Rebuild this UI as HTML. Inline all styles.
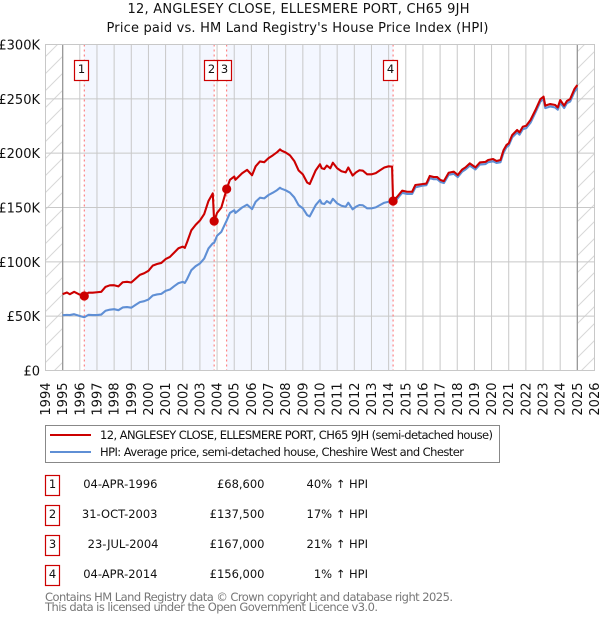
<!DOCTYPE html>
<html lang="en">
<head>
<meta charset="utf-8">
<title>12, ANGLESEY CLOSE, ELLESMERE PORT, CH65 9JH</title>
<style>
html,body{margin:0;padding:0;background:#fff;width:600px;height:620px;overflow:hidden}
svg{display:block;font-family:"DejaVu Sans","Liberation Sans",sans-serif}
text{fill:#111}
</style>
</head>
<body>
<svg id="chart" xmlns="http://www.w3.org/2000/svg" width="600" height="620" viewBox="0 0 600 620">
<defs>
<pattern id="hatch" patternUnits="userSpaceOnUse" width="17" height="17">
<path d="M-2 19 L19 -2" stroke="#d8d8d8" stroke-width="1" fill="none"/>
<path d="M-2 2 L2 -2 M15 19 L19 15" stroke="#d8d8d8" stroke-width="1" fill="none"/>
</pattern>
</defs>
<text x="298.5" y="13" font-size="13" text-anchor="middle" textLength="342" lengthAdjust="spacing">12, ANGLESEY CLOSE, ELLESMERE PORT, CH65 9JH</text>
<text x="297.5" y="32" font-size="13" text-anchor="middle" textLength="382" lengthAdjust="spacing">Price paid vs. HM Land Registry's House Price Index (HPI)</text>
<g id="plot"></g>
<g>
<rect x="45.5" y="425.5" width="454" height="37" fill="#fff" stroke="#888" stroke-width="1"/>
<line x1="50" x2="91" y1="435" y2="435" stroke="#cc0000" stroke-width="2"/>
<text x="100" y="439" font-size="11.5" textLength="393" lengthAdjust="spacing">12, ANGLESEY CLOSE, ELLESMERE PORT, CH65 9JH (semi-detached house)</text>
<line x1="50" x2="91" y1="452" y2="452" stroke="#5f8fd5" stroke-width="2"/>
<text x="100" y="456" font-size="11.5" textLength="364" lengthAdjust="spacing">HPI: Average price, semi-detached house, Cheshire West and Chester</text>
</g>
<g id="sales"></g>
<text x="45" y="601" font-size="11.5" style="fill:#777" textLength="408" lengthAdjust="spacing">Contains HM Land Registry data © Crown copyright and database right 2025.</text>
<text x="45" y="611" font-size="11.5" style="fill:#777" textLength="333" lengthAdjust="spacing">This data is licensed under the Open Government Licence v3.0.</text>
</svg>
<script>
const yearTicks = [1994,1995,1996,1997,1998,1999,2000,2001,2002,2003,2004,2005,2006,2007,2008,2009,2010,2011,2012,2013,2014,2015,2016,2017,2018,2019,2020,2021,2022,2023,2024,2025,2026];
const valueTicks = [0,50,100,150,200,250,300];
const valueTickLabels = ['£0','£50K','£100K','£150K','£200K','£250K','£300K'];
const dates = [1995,1995.25,1995.42,1995.67,1996,1996.26,1996.5,1996.75,1997,1997.25,1997.5,1997.75,1998,1998.25,1998.5,1998.75,1999,1999.25,1999.5,1999.75,2000,2000.25,2000.5,2000.75,2001,2001.25,2001.5,2001.75,2002,2002.12,2002.25,2002.5,2002.75,2003,2003.25,2003.5,2003.75,2003.83,2004,2004.25,2004.56,2004.75,2005,2005.07,2005.46,2005.75,2006.04,2006.25,2006.5,2006.75,2007,2007.25,2007.5,2007.67,2007.75,2008,2008.25,2008.5,2008.75,2009,2009.25,2009.4,2009.75,2010,2010.1,2010.25,2010.4,2010.6,2010.75,2011,2011.25,2011.5,2011.65,2011.9,2012.1,2012.3,2012.5,2012.75,2013,2013.25,2013.5,2013.75,2014,2014.2,2014.26,2014.5,2014.79,2015.08,2015.37,2015.56,2015.95,2016.2,2016.4,2016.63,2016.83,2017.02,2017.22,2017.5,2017.8,2018.03,2018.29,2018.48,2018.73,2019.06,2019.32,2019.65,2019.8,2020.09,2020.29,2020.52,2020.7,2020.87,2021,2021.2,2021.49,2021.63,2021.82,2022.02,2022.27,2022.56,2022.85,2023.03,2023.13,2023.42,2023.71,2023.86,2024,2024.23,2024.39,2024.58,2024.83,2025];
const hpiValues = [50.9,51.2,51,51.8,50.2,49,51.2,51,51,51.5,55,56,56.4,55.5,58,58.4,57.8,60.4,62.9,63.8,65.3,69,70,70.5,73.3,74.5,77.6,80.4,81.6,80.5,84,92.3,96,98.5,103,112.3,117,117.5,124,127.6,138,145,147.5,145,150,152.6,148.5,155.3,159,158.4,161.5,163.6,166,168.2,167.3,165.8,163.6,159.3,152.2,149.2,143,141.8,152.2,156.9,153.8,153.2,155.9,153.8,158,153.8,151.6,150.7,154.4,148.3,150.7,152.3,152,149.2,149.2,150.1,152.3,154.4,155.3,155,154.5,158,163.5,162.5,162.5,168.5,170,170.5,177,176,176,173.5,172.5,180,181,178,183,185,188.5,185,189.5,190,191.7,192.5,191,191.7,200.5,205.5,207,214.5,219,217,222,223,228,237.5,247.5,250,241.5,243,242,240,246.5,241.5,246,247.5,256.5,260];
const paidValues = [70.3,71.8,70.2,72.4,69.8,68.6,71.6,71.6,72,72.4,77,78.4,78.5,77.4,81.2,81.6,81,84.5,88,89.5,91.7,96.5,98,99,102.5,104.5,108.5,112.5,114,112.8,118,129,134,138,144,156,163,137.5,145,150,167,175.5,178.5,175.5,181.5,184.6,179.7,187.9,192.4,191.7,195.4,198,200.9,203.5,202.4,200.6,198,192.8,184.2,180.5,173,171.6,184.2,189.8,186.1,185.4,188.6,186.1,191.2,186.1,183.4,182.3,186.8,179.4,182.3,184.3,183.9,180.5,180.5,181.6,184.3,186.8,187.9,187.6,156,159.9,165.5,164.5,164.5,170.7,171.5,172,179,178,178,175.3,174.3,182,183,179.9,185,186.9,190.6,186.9,191.5,192,193.7,194.6,192.8,193.7,202.8,207.5,209,216.6,221.3,219.1,224.3,225.2,230.5,239.7,249.8,252,243.7,245.2,244.3,242.1,248.9,243.7,248,249.8,259,262.7];
const saleNumbers = ['1','2','3','4'];
const saleDates = [1996.26,2003.83,2004.56,2014.26];
const salePrices = [68.6,137.5,167,156];
const saleDateLabels = ['04-APR-1996','31-OCT-2003','23-JUL-2004','04-APR-2014'];
const salePriceLabels = ['£68,600','£137,500','£167,000','£156,000'];
const saleHpiLabels = ['40% ↑ HPI','17% ↑ HPI','21% ↑ HPI','1% ↑ HPI'];
const dataStartYear = 1995;
const dataEndYear = 2025;

const NS = 'http://www.w3.org/2000/svg';
const LEFT = 45.5, RIGHT = 594.5, TOP = 44.5, BOTTOM = 370.5;
const xMin = yearTicks[0], xMax = yearTicks[yearTicks.length - 1];
const yMin = valueTicks[0], yMax = valueTicks[valueTicks.length - 1];
function xScale(t) { return LEFT + (t - xMin) / (xMax - xMin) * (RIGHT - LEFT); }
function yScale(v) { return BOTTOM - (v - yMin) / (yMax - yMin) * (BOTTOM - TOP); }
function make(tag, attrs, text) {
  const el = document.createElementNS(NS, tag);
  for (const k in attrs) el.setAttribute(k, attrs[k]);
  if (text !== undefined) el.textContent = text;
  return el;
}
const plot = document.getElementById('plot');
const sales = document.getElementById('sales');

// hatched out-of-range bands
const hatchLeft = make('rect', {x: xScale(xMin), y: TOP, width: xScale(dataStartYear) - xScale(xMin), height: BOTTOM - TOP, fill: 'url(#hatch)'});


plot.appendChild(hatchLeft);
const hatchRight = make('rect', {x: xScale(dataEndYear), y: TOP, width: xScale(xMax) - xScale(dataEndYear), height: BOTTOM - TOP, fill: 'url(#hatch)'});


plot.appendChild(hatchRight);

// shaded spans between sales
[[0, 1], [2, 3]].forEach(function (pair) {
  const band = make('rect', {x: xScale(saleDates[pair[0]]), y: TOP, width: xScale(saleDates[pair[1]]) - xScale(saleDates[pair[0]]), height: BOTTOM - TOP, fill: '#f4f7ff'});
  
  
  plot.appendChild(band);
});

// grid and tick labels
yearTicks.forEach(function (year) {
  const x = xScale(year);
  const grid = make('line', {x1: x, x2: x, y1: TOP, y2: BOTTOM, stroke: '#c8c8c8', 'stroke-width': 1});
  
  
  plot.appendChild(grid);
  const label = make('text', {x: 0, y: 0, 'font-size': 13, 'text-anchor': 'end', transform: 'translate(' + (x + 4.5) + ',382.5) rotate(-90)'}, String(year));
  
  
  plot.appendChild(label);
});
valueTicks.forEach(function (value, i) {
  const y = yScale(value);
  const grid = make('line', {x1: LEFT, x2: RIGHT, y1: y, y2: y, stroke: '#c8c8c8', 'stroke-width': 1});
  
  
  plot.appendChild(grid);
  const label = make('text', {x: 40, y: y + 5, 'font-size': 13, 'text-anchor': 'end'}, valueTickLabels[i]);
  
  
  plot.appendChild(label);
});

// data range boundaries
[dataStartYear, dataEndYear].forEach(function (year) {
  const edge = make('line', {x1: xScale(year), x2: xScale(year), y1: TOP, y2: BOTTOM, stroke: '#999', 'stroke-width': 1.3});
  
  
  plot.appendChild(edge);
});

// sale dotted lines
saleDates.forEach(function (t) {
  const drop = make('line', {x1: xScale(t), x2: xScale(t), y1: TOP, y2: BOTTOM, stroke: '#ff6b6b', 'stroke-width': 1, 'stroke-dasharray': '2 3'});
  
  
  plot.appendChild(drop);
});

function buildPath(values) {
  return dates.map(function (t, i) {
    return (i ? 'L' : 'M') + xScale(t).toFixed(2) + ' ' + yScale(values[i]).toFixed(2);
  }).join(' ');
}
const hpiLine = make('path', {d: buildPath(hpiValues), fill: 'none', stroke: '#5f8fd5', 'stroke-width': 2.1, 'stroke-linejoin': 'round'});


plot.appendChild(hpiLine);
const paidLine = make('path', {d: buildPath(paidValues), fill: 'none', stroke: '#cc0000', 'stroke-width': 2.1, 'stroke-linejoin': 'round'});


plot.appendChild(paidLine);

saleDates.forEach(function (t, i) {
  const point = make('circle', {cx: xScale(t), cy: yScale(salePrices[i]), r: 4.6, fill: '#cc0000'});
  
  
  plot.appendChild(point);
  const bx = Math.round(xScale(t) - 10) + 0.5;
  const box = make('rect', {x: bx, y: 60.5, width: 14, height: 20, fill: '#fff', stroke: '#cc0000', 'stroke-width': 1.2});
  
  
  plot.appendChild(box);
  const num = make('text', {x: bx + 7, y: 73, 'font-size': 11.5, 'text-anchor': 'middle'}, saleNumbers[i]);
  
  
  plot.appendChild(num);
});

// plot outline
const frame = make('rect', {x: LEFT, y: TOP, width: RIGHT - LEFT, height: BOTTOM - TOP, fill: 'none', stroke: '#c8c8c8', 'stroke-width': 1});


plot.appendChild(frame);

// sales table
saleNumbers.forEach(function (n, i) {
  const top = 475.5 + i * 30;
  const box = make('rect', {x: 45.5, y: top, width: 14, height: 20, fill: '#fff', stroke: '#cc0000', 'stroke-width': 1.2});
  
  
  sales.appendChild(box);
  const num = make('text', {x: 52.5, y: top + 12.5, 'font-size': 11.5, 'text-anchor': 'middle'}, n);
  
  
  sales.appendChild(num);
  const dateText = make('text', {x: i === 2 ? 158.5 : 157.5, y: top + 12.5, 'font-size': 11.5, 'text-anchor': 'end'}, saleDateLabels[i]);
  
  
  sales.appendChild(dateText);
  const priceText = make('text', {x: 264.5, y: top + 12.5, 'font-size': 11.5, 'text-anchor': 'end'}, salePriceLabels[i]);
  
  
  sales.appendChild(priceText);
  const hpiText = make('text', {x: 368, y: top + 12.5, 'font-size': 11.5, 'text-anchor': 'end'}, saleHpiLabels[i]);
  
  
  sales.appendChild(hpiText);
});
</script>
</body>
</html>
